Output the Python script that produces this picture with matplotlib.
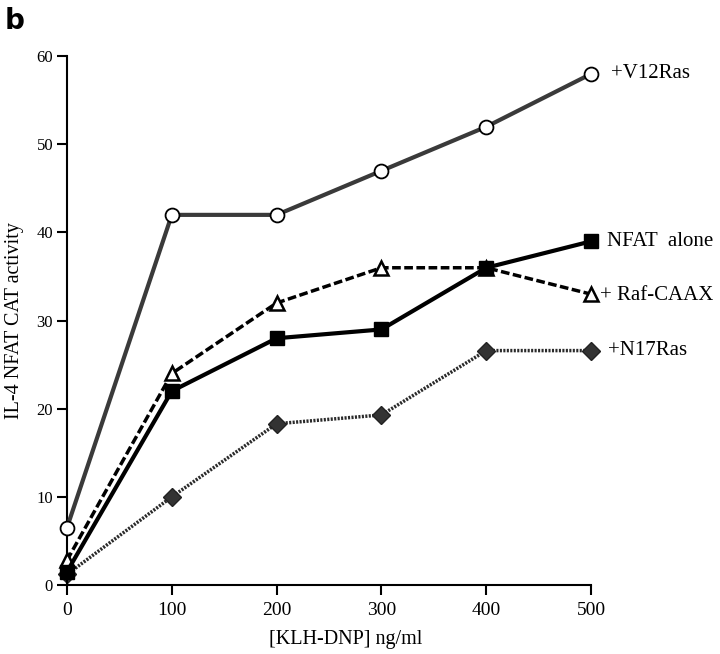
import matplotlib
matplotlib.use("Agg")
import matplotlib.pyplot as plt

doses = [0, 100, 200, 300, 400, 500]
v12ras = [6.5, 42, 42, 47, 52, 58]
nfat_alone = [1.5, 22, 28, 29, 36, 39]
raf_caax = [2.8, 24, 32, 36, 36, 33]
n17ras = [1.2, 10, 18.3, 19.3, 26.6, 26.6]
labels = ["+V12Ras", "NFAT  alone", "+ Raf-CAAX", "+N17Ras"]
xticks = [0, 100, 200, 300, 400, 500]
yticks = [0, 10, 20, 30, 40, 50, 60]

plt.rcParams['font.family'] = ['Liberation Serif', 'DejaVu Serif']

fig = plt.figure(figsize=(7.2, 6.54), dpi=100)
ax = fig.add_axes([0.093, 0.1055, 0.728, 0.8085])

ax.plot(doses, v12ras, color='#3a3a3a', lw=3, marker='o', ms=10, mfc='white',
        mec='black', mew=1.3, clip_on=False, zorder=3)
ax.plot(doses, raf_caax, color='black', lw=2.5, ls=(0, (2.5, 1)), marker='^', ms=10,
        mfc='white', mec='black', mew=1.8, clip_on=False, zorder=4)
ax.plot(doses, nfat_alone, color='black', lw=3, marker='s', ms=10, mfc='black',
        mec='black', clip_on=False, zorder=5)
ax.plot(doses, n17ras, color='#2a2a2a', lw=2.5, ls=(0, (0.6, 0.4)), marker='D', ms=9,
        mfc='#333333', mec='#222222', clip_on=False, zorder=2)

ax.annotate(labels[0], (doses[-1], v12ras[-1]), xytext=(14, 0), textcoords='offset points',
            va='center', fontsize=15)
ax.annotate(labels[1], (doses[-1], nfat_alone[-1]), xytext=(11.5, 0), textcoords='offset points',
            va='center', fontsize=15)
ax.annotate(labels[2], (doses[-1], raf_caax[-1]), xytext=(6.5, -1), textcoords='offset points',
            va='center', fontsize=15)
ax.annotate(labels[3], (doses[-1], n17ras[-1]), xytext=(12, 0), textcoords='offset points',
            va='center', fontsize=15)

ax.set_xlim(0, 500)
ax.set_ylim(0, 60)
ax.set_xticks(xticks)
ax.set_yticks(yticks)
ax.tick_params(axis='x', direction='out', length=7, width=1.5, labelsize=14, pad=5)
ax.tick_params(axis='y', direction='out', length=7, width=1.5, labelsize=12, pad=3)
for s in ['top', 'right']:
    ax.spines[s].set_visible(False)
for s in ['left', 'bottom']:
    ax.spines[s].set_linewidth(1.5)

ax.set_xlabel("[KLH-DNP] ng/ml", fontsize=14.5)
ax.xaxis.set_label_coords(0.532, -0.085)
ax.set_ylabel("IL-4 NFAT CAT activity", fontsize=14.5, labelpad=9)

fig.text(0.006, 0.99, "b", fontsize=20, fontweight='bold', family='DejaVu Sans',
         va='top', ha='left')

fig.savefig("out.png", dpi=100)
